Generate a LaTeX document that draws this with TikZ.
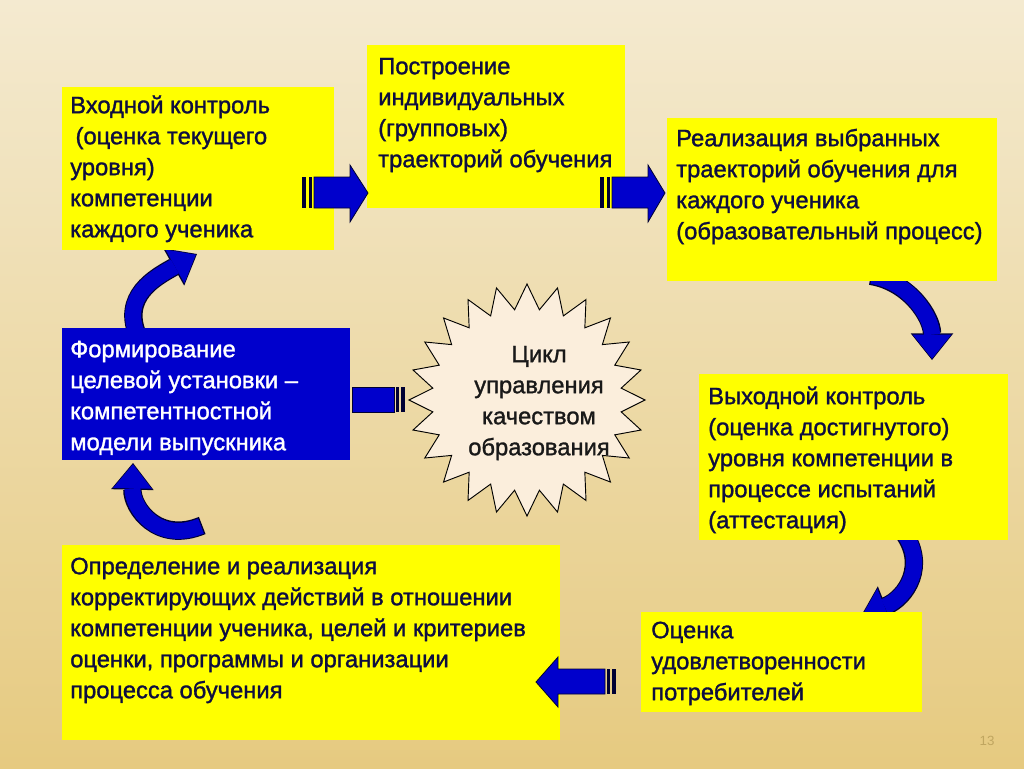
\documentclass[tikz,border=0pt]{standalone}
\usepackage{fontspec}
\setmainfont{Liberation Sans}
\newfontfamily\boxfont{Liberation Sans}[FakeBold=1.3]
\usetikzlibrary{arrows.meta}
\definecolor{bgtop}{HTML}{F4EAD0}
\definecolor{bgmid}{HTML}{FAF3E2}
\definecolor{bgbot}{HTML}{E6CA80}
\definecolor{boxyellow}{HTML}{FFFF00}
\definecolor{boxblue}{HTML}{0000CC}
\definecolor{arrblue}{HTML}{0000CC}
\definecolor{navy}{HTML}{0E0E40}
\definecolor{stripe}{HTML}{000033}
\definecolor{starfill}{HTML}{FBEEDC}
\definecolor{pagenum}{HTML}{C0A660}
\newdimen\px \px=0.75pt
\begin{document}
\begin{tikzpicture}[x={(0.75pt,0pt)},y={(0pt,-0.75pt)},
  ybox/.style={fill=boxyellow, draw=none, anchor=north west, inner sep=0pt, outer sep=0pt},
  bbox/.style={fill=boxblue, draw=none, anchor=north west, inner sep=0pt, outer sep=0pt},
  txt/.style={anchor=north west, inner sep=0pt, align=left, text=navy, font=\boxfont\fontsize{17.8}{23.25}\selectfont},
  wtxt/.style={txt, text=white},
  sarrow/.style={fill=arrblue, draw=stripe, line width=0.6pt, line join=miter},
  stripebar/.style={fill=stripe, draw=none},
  carrow/.style={draw=arrblue, line width=12pt, line cap=butt,
     -{Triangle[width=29pt,length=18pt,line width=0pt]}, shorten >=1pt,
     preaction={draw=stripe, line width=13.8pt, shorten <=-1pt, shorten >=0pt,
       -{Triangle[width=32pt,length=20pt,line width=0pt]}}},
]
\useasboundingbox (0,0) rectangle (1024,768);
\shade[top color=bgtop, middle color=bgmid, bottom color=bgbot] (0,0) rectangle (1024,768);

% curved arrows (tails hidden under boxes)
\coordinate (ca1) at (138,336); \coordinate (ca2) at (197,254);
\draw[carrow] (ca1) .. controls (120,296) and (156,277) .. (ca2);
\coordinate (cb1) at (872,276); \coordinate (cb2) at (932,360);
\draw[carrow] (cb1) .. controls (910,282) and (932,318) .. (cb2);
\coordinate (cc1) at (201,526); \coordinate (cc2) at (133,463);
\draw[carrow] (cc1) .. controls (158,544) and (132,508) .. (cc2);
\coordinate (cd1) at (903,532); \coordinate (cd2) at (861,616);
\draw[carrow] (cd1) .. controls (928,565) and (906,598) .. (cd2);

% boxes
\node[ybox, minimum width=272*\px, minimum height=163*\px] (b1) at (62,87) {};
\node[ybox, minimum width=258*\px, minimum height=163*\px] (b2) at (367,45) {};
\node[ybox, minimum width=330*\px, minimum height=163*\px] (b3) at (667,118) {};
\node[bbox, minimum width=288*\px, minimum height=132*\px] (b4) at (62,328) {};
\node[ybox, minimum width=309*\px, minimum height=166*\px] (b5) at (699,374) {};
\node[ybox, minimum width=498*\px, minimum height=195*\px] (b6) at (62,545) {};
\node[ybox, minimum width=281*\px, minimum height=100*\px] (b7) at (641,612) {};

% texts
\node[txt] (t1) at (70,86.3) {\rule{0pt}{20pt}Входной контроль\\\hspace{4pt}(оценка текущего\\уровня)\\компетенции\\каждого ученика};
\node[txt] (t2) at (378,47.3) {\rule{0pt}{20pt}Построение\\индивидуальных\\(групповых)\\траекторий обучения};
\node[txt] (t3) at (676,119.3) {\rule{0pt}{20pt}Реализация выбранных\\траекторий обучения для\\каждого ученика\\(образовательный процесс)};
\node[wtxt] (t4) at (70,330.3) {\rule{0pt}{20pt}Формирование\\целевой установки –\\компетентностной\\модели выпускника};
\node[txt] (t5) at (708,377.3) {\rule{0pt}{20pt}Выходной контроль\\(оценка достигнутого)\\уровня компетенции в\\процессе испытаний\\(аттестация)};
\node[txt] (t6) at (70,547.3) {\rule{0pt}{20pt}Определение и реализация\\корректирующих действий в отношении\\компетенции ученика, целей и критериев\\оценки, программы и организации\\процесса обучения};
\node[txt] (t7) at (651,611.3) {\rule{0pt}{20pt}Оценка\\удовлетворенности\\потребителей};

% star
\path[draw=black, line width=0.7pt, fill=starfill, line join=miter]
  (645,400) \foreach \i [evaluate=\i as \r using {mod(\i,2)==0 ? 1 : 0}] in {1,...,47} {
    -- ({527+(\r==1 ? 118 : 95)*cos(\i*7.5)},{400+(\r==1 ? 116 : 91)*sin(\i*7.5)}) } -- cycle;
\node[txt, anchor=north, align=center, text=black!90] (star) at (539,335.3)
  {\rule{0pt}{20pt}Цикл\\управления\\качеством\\образования};

% straight block arrows
\fill[stripebar] (302,177) rectangle (306,208);
\fill[stripebar] (309,177) rectangle (312,208);
\path[sarrow] (314,177) -- (350,177) -- (350,165) -- (368,193) -- (350,222) -- (350,208) -- (314,208) -- cycle;

\fill[stripebar] (600,177) rectangle (604,208);
\fill[stripebar] (607,177) rectangle (610,208);
\path[sarrow] (612,177) -- (648,177) -- (648,165) -- (665,193) -- (648,222) -- (648,208) -- (612,208) -- cycle;

\fill[stripebar] (396,387) rectangle (399,412);
\fill[stripebar] (401,387) rectangle (405,412);
\path[sarrow] (394,387) -- (352,387) -- (352,412) -- (394,412) -- cycle;

\fill[stripebar] (607,669) rectangle (610,694);
\fill[stripebar] (612,669) rectangle (616,694);
\path[sarrow] (605,669) -- (558,669) -- (558,657) -- (536,682) -- (558,707) -- (558,694) -- (605,694) -- cycle;

\node[text=pagenum, font=\fontsize{10}{12}\selectfont] (pg) at (987,741) {13};
\end{tikzpicture}
\end{document}
